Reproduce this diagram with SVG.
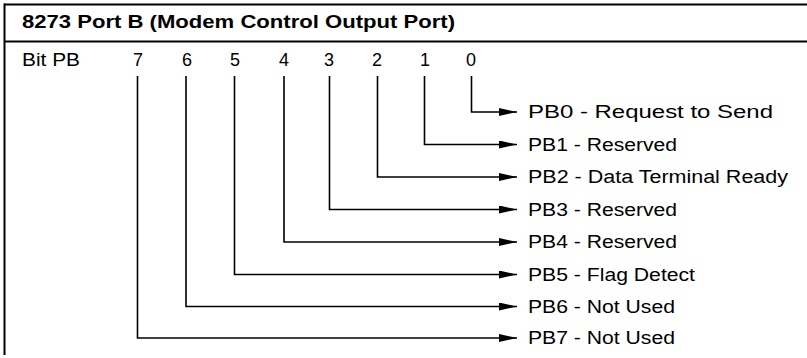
<svg xmlns="http://www.w3.org/2000/svg" width="807" height="358" viewBox="0 0 807 358">
<style>
text{font-family:"Liberation Sans",Arial,Helvetica,sans-serif;fill:#000}
.t{font-size:18px;font-weight:bold}
.l{font-size:18px}
.d{font-size:18px;text-anchor:middle}
.frame{stroke:#000;stroke-width:2;fill:none}
.c{stroke:#000;stroke-width:1.6;fill:none}
</style>
<defs>
<marker id="ah" markerUnits="userSpaceOnUse" markerWidth="18" markerHeight="8" refX="18" refY="4" orient="auto">
<path d="M0,0 L18,4 L0,8 Z" fill="#000"/>
</marker>
</defs>
<g id="frame">
<line class="frame" x1="4" y1="4.5" x2="807" y2="4.5"/>
<line class="frame" x1="4" y1="41.5" x2="807" y2="41.5"/>
<line class="frame" x1="4.5" y1="3.5" x2="4.5" y2="355"/>
<text class="t" x="22" y="28" textLength="433" lengthAdjust="spacingAndGlyphs">8273 Port B (Modem Control Output Port)</text>
</g>
<g id="header">
<text class="l" x="22" y="66" textLength="58" lengthAdjust="spacingAndGlyphs">Bit PB</text>
<text class="d" x="138" y="66">7</text>
<text class="d" x="187" y="66">6</text>
<text class="d" x="235" y="66">5</text>
<text class="d" x="284" y="66">4</text>
<text class="d" x="329" y="66">3</text>
<text class="d" x="377" y="66">2</text>
<text class="d" x="425" y="66">1</text>
<text class="d" x="471" y="66">0</text>
</g>
<g id="connectors">
<path class="c" marker-end="url(#ah)" d="M471.5,76 V112 H517"/>
<path class="c" marker-end="url(#ah)" d="M424.5,76 V144.5 H517"/>
<path class="c" marker-end="url(#ah)" d="M377.5,76 V177 H517"/>
<path class="c" marker-end="url(#ah)" d="M329.5,76 V209.5 H517"/>
<path class="c" marker-end="url(#ah)" d="M284,76 V242 H517"/>
<path class="c" marker-end="url(#ah)" d="M234.5,76 V274.5 H517"/>
<path class="c" marker-end="url(#ah)" d="M186,76 V306.5 H517"/>
<path class="c" marker-end="url(#ah)" d="M137.5,76 V338 H517"/>
</g>
<g id="pb0"><text class="l" x="528" y="118" textLength="245" lengthAdjust="spacingAndGlyphs">PB0 - Request to Send</text></g>
<g id="pb1"><text class="l" x="528" y="150.5" textLength="149" lengthAdjust="spacingAndGlyphs">PB1 - Reserved</text></g>
<g id="pb2"><text class="l" x="528" y="183" textLength="260" lengthAdjust="spacingAndGlyphs">PB2 - Data Terminal Ready</text></g>
<g id="pb3"><text class="l" x="528" y="215.5" textLength="149" lengthAdjust="spacingAndGlyphs">PB3 - Reserved</text></g>
<g id="pb4"><text class="l" x="528" y="248" textLength="149" lengthAdjust="spacingAndGlyphs">PB4 - Reserved</text></g>
<g id="pb5"><text class="l" x="528" y="280.5" textLength="167" lengthAdjust="spacingAndGlyphs">PB5 - Flag Detect</text></g>
<g id="pb6"><text class="l" x="528" y="312.5" textLength="147" lengthAdjust="spacingAndGlyphs">PB6 - Not Used</text></g>
<g id="pb7"><text class="l" x="528" y="344" textLength="147" lengthAdjust="spacingAndGlyphs">PB7 - Not Used</text></g>
</svg>
